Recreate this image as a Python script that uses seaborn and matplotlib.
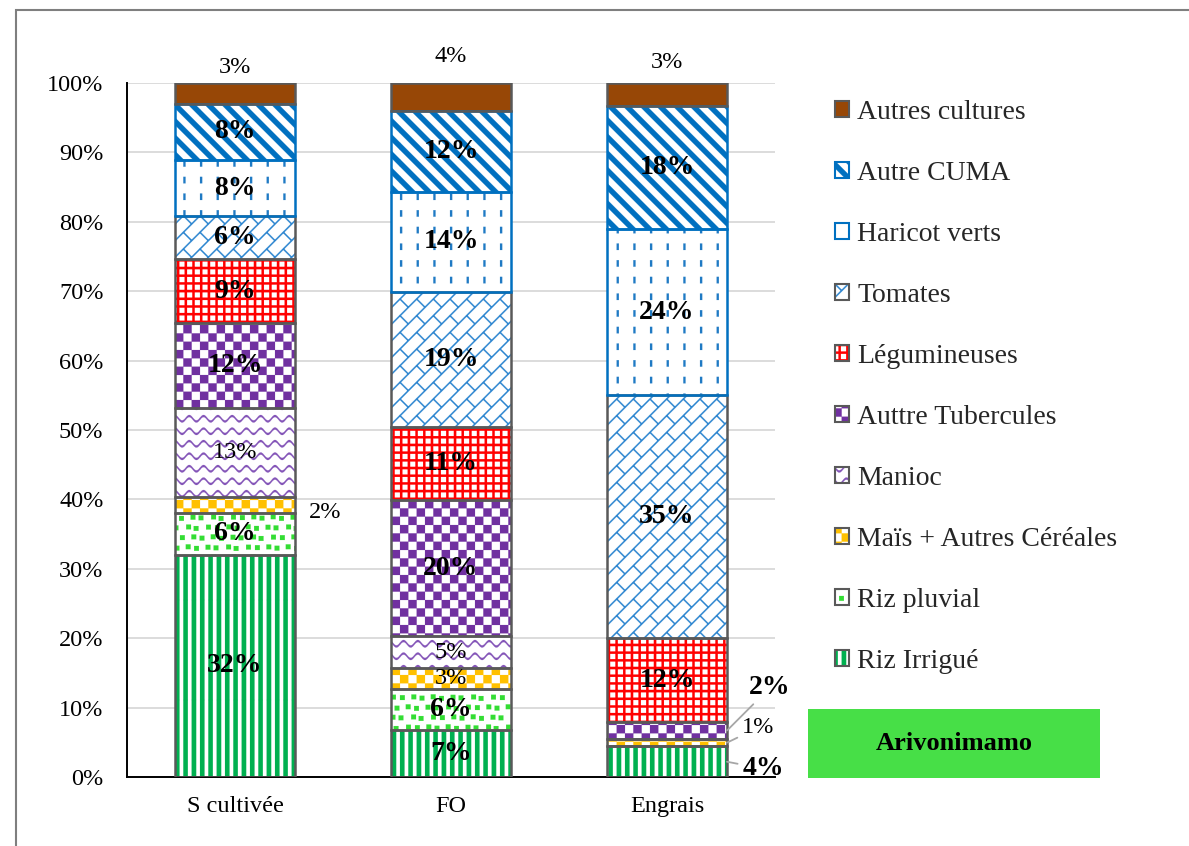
import numpy as np
import pandas as pd
import matplotlib
matplotlib.use("Agg")
import matplotlib.pyplot as plt
import matplotlib.hatch as mhatch
from matplotlib.path import Path
from matplotlib.patches import Patch, Rectangle
from matplotlib.legend_handler import HandlerTuple
import seaborn as sns

# ---------------------------------------------------------------- data (%)
categories = ["S cultivée", "FO", "Engrais"]
series = ["Riz Irrigué", "Riz pluvial", "Maïs + Autres Céréales", "Manioc",
          "Auttre Tubercules", "Légumineuses", "Tomates", "Haricot verts",
          "Autre CUMA", "Autres cultures"]
riz_irrigue = [32.0, 6.8, 4.4]
riz_pluvial = [6.1, 5.9, 0.0]
mais_cereales = [2.2, 3.0, 1.1]
manioc = [12.9, 4.6, 0.0]
autres_tubercules = [12.2, 19.6, 2.4]
legumineuses = [9.2, 10.6, 12.1]
tomates = [6.2, 19.4, 35.0]
haricot_verts = [8.1, 14.4, 24.0]
autre_cuma = [8.1, 11.7, 17.7]
autres_cultures = [3.0, 4.0, 3.3]
region = "Arivonimamo"
y_ticks = [0, 10, 20, 30, 40, 50, 60, 70, 80, 90, 100]

values = {
    "Riz Irrigué": riz_irrigue,
    "Riz pluvial": riz_pluvial,
    "Maïs + Autres Céréales": mais_cereales,
    "Manioc": manioc,
    "Auttre Tubercules": autres_tubercules,
    "Légumineuses": legumineuses,
    "Tomates": tomates,
    "Haricot verts": haricot_verts,
    "Autre CUMA": autre_cuma,
    "Autres cultures": autres_cultures,
}


# ------------------------------------------------------- fill patterns
# Each pattern is a set of filled polygons on a one-inch tile.
def _ccw(pts):
    a = 0.0
    for (x0, y0), (x1, y1) in zip(pts, pts[1:] + pts[:1]):
        a += x0 * y1 - x1 * y0
    return pts if a > 0 else pts[::-1]


def _rect(x, y, w, h):
    return [(x, y), (x + w, y), (x + w, y + h), (x, y + h)]


def _seg(a, b, t):
    (x0, y0), (x1, y1) = a, b
    dx, dy = x1 - x0, y1 - y0
    L = np.hypot(dx, dy)
    nx, ny = -dy / L * t / 2, dx / L * t / 2
    return [(x0 + nx, y0 + ny), (x1 + nx, y1 + ny),
            (x1 - nx, y1 - ny), (x0 - nx, y0 - ny)]


def _tile(polys):
    verts, codes = [], []
    for ox in (-1, 0, 1):
        for oy in (-1, 0, 1):
            for poly in polys:
                pts = _ccw([(x + ox, y + oy) for x, y in poly])
                verts += pts + [pts[0]]
                codes += [Path.MOVETO] + [Path.LINETO] * (len(pts) - 1) + [Path.CLOSEPOLY]
    return Path(np.asarray(verts, float), np.asarray(codes, dtype=Path.code_type))


def pat_vstripes(n=12, w=0.045):
    return [_rect(i / n, 0, w, 1) for i in range(n)]


def pat_checker(n=12):
    return [_rect(i / n, j / n, 1 / n, 1 / n)
            for i in range(n) for j in range(n) if (i + j) % 2 == 0]


def pat_confetti(n=10, s=0.048):
    jit = [0.0, 0.012, -0.009, 0.014, -0.013, 0.006, -0.004, 0.011, -0.014, 0.008]
    polys = []
    for j in range(n):
        for i in range(n):
            x = i / n + (0.5 / n if j % 2 else 0) + jit[(i * 3 + j) % 10]
            y = j / n + jit[(i + j * 7) % 10] * 0.6
            polys.append(_rect(x, y, s, s))
    return polys


def pat_grid(n=13, t=0.024):
    polys = [_rect(0, j / n, 1, t) for j in range(n)]
    polys += [_rect(i / n, j / n + t, t, 1 / n - t) for i in range(n) for j in range(n)]
    return polys


def pat_wave(m=8, n=7, a=0.028, t=0.022, k=10):
    polys = []
    xs = np.linspace(0, 1, n * k + 1)
    for j in range(m):
        y0 = (j + 0.5) / m
        ys = y0 + a * np.sin(2 * np.pi * n * xs)
        top = [(x, y + t / 2) for x, y in zip(xs, ys)]
        bot = [(x, y - t / 2) for x, y in zip(xs, ys)][::-1]
        polys.append(top + bot)
    return polys


def pat_brick(n=6, t=0.02):
    p = 1 / n
    polys = [[(0, k * p), (1, k * p + 1), (1, k * p + 1 + t), (0, k * p + t)] for k in range(n)]
    for i in range(n):
        for j in range(n):
            x0, y0 = i * p, j * p
            polys.append(_seg((x0, y0 + p + t / 2), (x0 + p / 2, y0 + p / 2 + t / 2), t * 0.7))
    return polys


def pat_dashes(nc=6, nr=6, L=0.065, w=0.022):
    return [_rect(i / nc, j / nr, w, L) for i in range(nc) for j in range(nr)]


def pat_diag(n=6, w=0.075):
    return [[(0, k / n), (1, k / n - 1), (1, k / n - 1 + w), (0, k / n + w)] for k in range(n)]


PATTERNS = {
    "|": _tile(pat_vstripes()),
    ".": _tile(pat_confetti()),
    "+": _tile(pat_checker(12)),
    "-": _tile(pat_wave()),
    "x": _tile(pat_checker(12)),
    "X": _tile(pat_grid()),
    "/": _tile(pat_brick()),
    "o": _tile(pat_dashes()),
    "\\": _tile(pat_diag()),
}

_builtin_get_path = mhatch.get_path


def _get_path(hatchpattern, density=6):
    if hatchpattern in PATTERNS:
        return PATTERNS[hatchpattern]
    return _builtin_get_path(hatchpattern, density)


mhatch.get_path = _get_path

# ------------------------------------------------------------- styling
GRAY = "#595959"
BLUE = "#0070C0"
styles = {  # hatch, pattern colour, face colour, border colour
    "Riz Irrigué": ("|", "#00B050", "white", GRAY),
    "Riz pluvial": (".", "#33DD33", "white", GRAY),
    "Maïs + Autres Céréales": ("+", "#FFC000", "white", GRAY),
    "Manioc": ("-", "#8455B8", "white", GRAY),
    "Auttre Tubercules": ("x", "#7030A0", "white", GRAY),
    "Légumineuses": ("X", "#FF0000", "white", GRAY),
    "Tomates": ("/", "#2E86D0", "white", GRAY),
    "Haricot verts": ("o", "#1F7AC4", "white", BLUE),
    "Autre CUMA": ("\\", BLUE, "white", BLUE),
    "Autres cultures": (None, "#974706", "#974706", GRAY),
}
bold_series = {"Riz Irrigué", "Riz pluvial", "Auttre Tubercules", "Légumineuses",
               "Tomates", "Haricot verts", "Autre CUMA"}
# labels placed outside their segment: anchor, offset (px), leader line
label_place = {
    ("S cultivée", "Maïs + Autres Céréales"): ("right", 30, -8, False),
    ("S cultivée", "Autres cultures"): ("top", 0, 16, False),
    ("FO", "Autres cultures"): ("top", 0, 26, False),
    ("Engrais", "Autres cultures"): ("top", 0, 21, False),
    ("Engrais", "Auttre Tubercules"): ("right", 43, 43, True),
    ("Engrais", "Maïs + Autres Céréales"): ("right", 31, 15, True),
    ("Engrais", "Riz Irrigué"): ("right", 36, -7, True),
}

sns.set_theme(style="white")
plt.rcParams["font.family"] = ["Liberation Serif", "DejaVu Serif"]
plt.rcParams["hatch.linewidth"] = 0.1

BAR_W = 0.556
W, H = 1189, 846
fig = plt.figure(figsize=(W / 100, H / 100), dpi=100)
ax = fig.add_axes([127 / W, 69 / H, 648 / W, 694 / H])

# pattern fills
bottom = np.zeros(len(categories))
bottoms = {}
for name in series:
    vals = np.asarray(values[name], float)
    hatch, pcol, face, ecol = styles[name]
    df = pd.DataFrame({"categorie": categories, "part": vals})
    n0 = len(ax.patches)
    sns.barplot(data=df, x="categorie", y="part", order=categories, bottom=bottom,
                color=face, saturation=1, width=BAR_W, errorbar=None, ax=ax)
    for p in ax.patches[n0:]:
        p.set_facecolor(face)
        p.set_edgecolor(pcol)
        p.set_linewidth(0)
        p.set_hatch(hatch)
        p.set_zorder(2)
    bottoms[name] = bottom.copy()
    bottom = bottom + vals

# segment outlines on top of all fills
for name in series:
    vals = np.asarray(values[name], float)
    hatch, pcol, face, ecol = styles[name]
    df = pd.DataFrame({"categorie": categories, "part": vals})
    n0 = len(ax.patches)
    sns.barplot(data=df, x="categorie", y="part", order=categories, bottom=bottoms[name],
                color=face, saturation=1, width=BAR_W, errorbar=None, ax=ax)
    for p in ax.patches[n0:]:
        p.set_fill(False)
        p.set_edgecolor(ecol)
        p.set_linewidth(1.8)
        p.set_zorder(3)

# value labels
for name in series:
    for i, cat in enumerate(categories):
        v = values[name][i]
        if v <= 0:
            continue
        txt = f"{int(v + 0.5)}%"
        bold = name in bold_series
        weight = "bold" if bold else "normal"
        size = 20 if bold else 17.5
        b = bottoms[name][i]
        key = (cat, name)
        if key in label_place:
            anchor, dx, dy, leader = label_place[key]
            if anchor == "right":
                xy = (i + BAR_W / 2, b + v / 2)
            else:
                xy = (i, b + v)
            ax.annotate(txt, xy=xy, xytext=(dx, dy), textcoords="offset pixels",
                        ha="center", va="center", fontsize=size, fontweight=weight,
                        color="black", zorder=5, annotation_clip=False,
                        arrowprops=dict(arrowstyle="-", color="#A6A6A6", lw=1.3,
                                        shrinkA=1, shrinkB=0) if leader else None)
        else:
            ax.text(i, b + v / 2, txt, ha="center", va="center", fontsize=size,
                    fontweight=weight, color="black", zorder=5)

# axes
ax.set_xlim(-0.5, len(categories) - 0.5)
ax.set_ylim(0, 100)
ax.set_yticks(y_ticks)
ax.set_yticklabels([f"{t}%" for t in y_ticks])
ax.set_xlabel("")
ax.set_ylabel("")
ax.yaxis.grid(True, color="#D9D9D9", lw=1.3)
ax.xaxis.grid(False)
ax.set_axisbelow(True)
for s in ("top", "right"):
    ax.spines[s].set_visible(False)
for s in ("left", "bottom"):
    ax.spines[s].set_color("black")
    ax.spines[s].set_linewidth(1.4)
ax.tick_params(axis="y", length=0, pad=17, labelsize=17.5, colors="black")
ax.tick_params(axis="x", length=0, pad=14, labelsize=17.5, colors="black")

# legend (top series first)
handles, labels = [], []
for name in series[::-1]:
    hatch, pcol, face, ecol = styles[name]
    handles.append((Patch(facecolor=face, edgecolor=pcol, hatch=hatch, lw=0),
                    Patch(facecolor="none", edgecolor=ecol, lw=1.5)))
    labels.append(name)
fig.legend(handles, labels, handler_map={tuple: HandlerTuple(ndivide=1, pad=0)},
           loc="upper left", bbox_to_anchor=(835 / W, 1 - 100 / H), frameon=False,
           fontsize=20, handlelength=0.5, handleheight=0.5, handletextpad=0.3,
           labelspacing=1.295, borderpad=0, borderaxespad=0)

# region tag
fig.add_artist(Rectangle((808 / W, 1 - 778 / H), 292 / W, 69 / H,
                         transform=fig.transFigure, facecolor="#47DF47",
                         edgecolor="none"))
fig.text(954 / W, 1 - 743 / H, region, ha="center", va="center",
         fontsize=19, fontweight="bold", color="black")

# chart frame
fig.add_artist(Rectangle((16 / W, -0.1), 1.2, 1.1 - 10 / H, transform=fig.transFigure,
                         fill=False, edgecolor="#7F7F7F", lw=1.5))

fig.savefig("out.png", dpi=100)
